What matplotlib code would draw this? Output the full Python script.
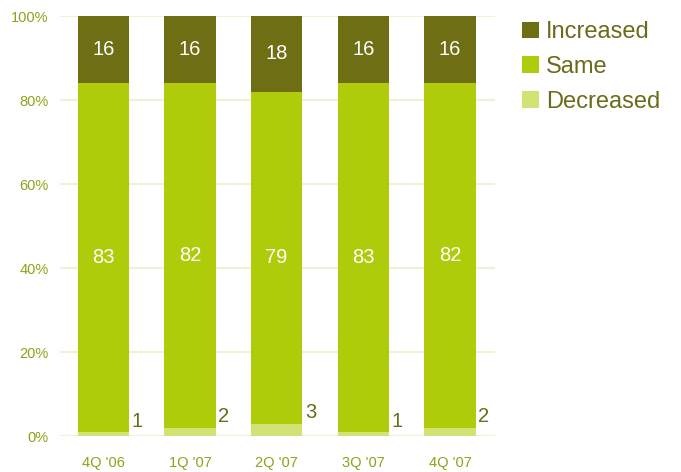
import matplotlib.pyplot as plt
import numpy as np

plt.rcParams['font.family'] = ['Liberation Sans', 'DejaVu Sans']

quarters = ["4Q '06", "1Q '07", "2Q '07", "3Q '07", "4Q '07"]
decreased = [1, 2, 3, 1, 2]
same = [83, 82, 79, 83, 82]
increased = [16, 16, 18, 16, 16]

c_inc = "#6e6e14"
c_same = "#afcb0a"
c_dec = "#d2e274"
c_tick = "#8fa21a"
c_text = "#6b6b1a"

fig = plt.figure(figsize=(6.81, 4.72), dpi=100)
ax = fig.add_axes([0.088, 0.076, 0.639, 0.890])

x = np.arange(len(quarters))
w = 0.59
dec = np.array(decreased)
sam = np.array(same)
inc = np.array(increased)

b1 = ax.bar(x, dec, w, color=c_dec, label="Decreased", zorder=2)
b2 = ax.bar(x, sam, w, bottom=dec, color=c_same, label="Same", zorder=2)
b3 = ax.bar(x, inc, w, bottom=dec + sam, color=c_inc, label="Increased", zorder=2)

# values inside the bars
for i in range(len(x)):
    ax.text(x[i], dec[i] + sam[i] / 2, str(sam[i]), color="white", fontsize=14.5,
            ha="center", va="center", zorder=3)
    ax.text(x[i], dec[i] + sam[i] + inc[i] / 2, str(inc[i]), color="white", fontsize=14.5,
            ha="center", va="center", zorder=3)
    ax.text(x[i] + w / 2 + 0.03, dec[i] + 0.3, str(dec[i]), color=c_text, fontsize=14.5,
            ha="left", va="bottom", zorder=3)

ax.set_xlim(-0.5, 4.52)
ax.set_ylim(0, 100)
ax.set_yticks(range(0, 101, 20))
ax.set_yticklabels([f"{v}%" for v in range(0, 101, 20)])
ax.set_xticks(x)
ax.set_xticklabels(quarters)
ax.tick_params(length=0, labelsize=10.5, labelcolor=c_tick)
ax.tick_params(axis="x", pad=14)
ax.tick_params(axis="y", pad=8)
ax.yaxis.grid(True, color="#eef2d2", linewidth=1.5, zorder=0)
ax.set_axisbelow(True)
for s in ax.spines.values():
    s.set_visible(False)

handles = [b3, b2, b1]
leg = fig.legend(handles, ["Increased", "Same", "Decreased"], loc="upper left",
                 bbox_to_anchor=(0.736, 1.0), frameon=False, fontsize=17,
                 handlelength=0.7, handleheight=0.7, handletextpad=0.3,
                 labelspacing=0.54)
for t in leg.get_texts():
    t.set_color(c_text)

fig.savefig("out.png")
